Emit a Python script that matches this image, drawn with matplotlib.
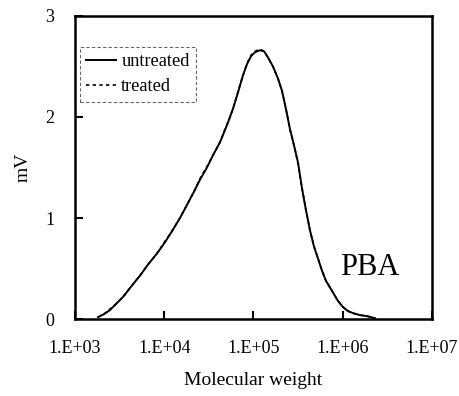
import matplotlib
matplotlib.use("Agg")
import matplotlib.pyplot as plt
import numpy as np

# log10 of molecular weight and signal (mV)
log_mw_untreated = [3.258, 3.325, 3.392, 3.459, 3.538, 3.627, 3.728, 3.818, 3.919, 4.008,
                    4.087, 4.176, 4.255, 4.333, 4.401, 4.479, 4.546, 4.625, 4.681, 4.725,
                    4.770, 4.826, 4.882, 4.927, 4.972, 5.017, 5.073, 5.118, 5.162, 5.218,
                    5.275, 5.319, 5.364, 5.409, 5.454, 5.499, 5.543, 5.588, 5.633, 5.678,
                    5.723, 5.768, 5.812, 5.880, 5.947, 6.003, 6.059, 6.115, 6.193, 6.272, 6.361]
mv_untreated = [0.02, 0.05, 0.09, 0.15, 0.22, 0.32, 0.43, 0.54, 0.65, 0.76,
                0.87, 1.00, 1.13, 1.26, 1.38, 1.50, 1.62, 1.75, 1.87, 1.97,
                2.08, 2.24, 2.41, 2.52, 2.60, 2.64, 2.66, 2.65, 2.59, 2.50,
                2.38, 2.26, 2.08, 1.88, 1.72, 1.55, 1.30, 1.08, 0.88, 0.72,
                0.60, 0.48, 0.38, 0.28, 0.18, 0.12, 0.08, 0.06, 0.04, 0.03, 0.01]
log_mw_treated = [3.258, 3.325, 3.392, 3.459, 3.538, 3.627, 3.728, 3.818, 3.919, 4.008,
                  4.087, 4.176, 4.255, 4.333, 4.401, 4.479, 4.546, 4.625, 4.681, 4.725,
                  4.770, 4.826, 4.882, 4.927, 4.972, 5.017, 5.073, 5.118, 5.162, 5.218,
                  5.275, 5.319, 5.364, 5.409, 5.454, 5.499, 5.543, 5.588, 5.633, 5.678,
                  5.723, 5.768, 5.812, 5.880, 5.947, 6.003, 6.059, 6.115, 6.193, 6.272, 6.361]
mv_treated = [0.02, 0.05, 0.10, 0.15, 0.22, 0.32, 0.43, 0.54, 0.65, 0.77,
              0.87, 1.00, 1.13, 1.26, 1.39, 1.51, 1.62, 1.75, 1.88, 1.97,
              2.08, 2.25, 2.41, 2.53, 2.61, 2.65, 2.67, 2.65, 2.59, 2.50,
              2.38, 2.26, 2.08, 1.88, 1.72, 1.54, 1.30, 1.08, 0.88, 0.72,
              0.60, 0.48, 0.38, 0.28, 0.18, 0.12, 0.08, 0.06, 0.04, 0.03, 0.01]
x_ticks = [1e3, 1e4, 1e5, 1e6, 1e7]
x_tick_labels = ["1.E+03", "1.E+04", "1.E+05", "1.E+06", "1.E+07"]
y_ticks = [0, 1, 2, 3]

plt.rcParams['font.family'] = ['Liberation Serif', 'DejaVu Serif']

fig = plt.figure(figsize=(4.6, 3.96), dpi=100)
ax = fig.add_axes([0.163, 0.194, 0.776, 0.766])

ax.plot(10 ** np.array(log_mw_untreated), mv_untreated, color='black', lw=1.4, label='untreated')
ax.plot(10 ** np.array(log_mw_treated), mv_treated, color='black', lw=1.2, ls=(0, (2, 2)), label='treated')

ax.set_xscale('log')
ax.set_xlim(1e3, 1e7)
ax.set_ylim(0, 3)
ax.set_xticks(x_ticks)
ax.set_xticklabels(x_tick_labels)
ax.set_yticks(y_ticks)
ax.minorticks_off()
ax.tick_params(axis='both', direction='in', length=6, width=1.5, labelsize=13, pad=15)
for s in ax.spines.values():
    s.set_linewidth(1.8)

ax.set_xlabel("Molecular weight", fontsize=14, labelpad=11)
ax.set_ylabel("mV", fontsize=14, labelpad=10)

ax.text(0.743, 0.145, "PBA", transform=ax.transAxes, fontsize=22, ha='left', va='baseline')

leg = ax.legend(loc='upper left', bbox_to_anchor=(0.014, 0.898), borderaxespad=0,
                fontsize=13.2, handlelength=1.6, handletextpad=0.3, labelspacing=0.45,
                borderpad=0.35, fancybox=False, framealpha=1)
fr = leg.get_frame()
fr.set_edgecolor('#666666')
fr.set_linewidth(0.8)
fr.set_linestyle((0, (3, 2)))

fig.savefig("out.png", dpi=100)
